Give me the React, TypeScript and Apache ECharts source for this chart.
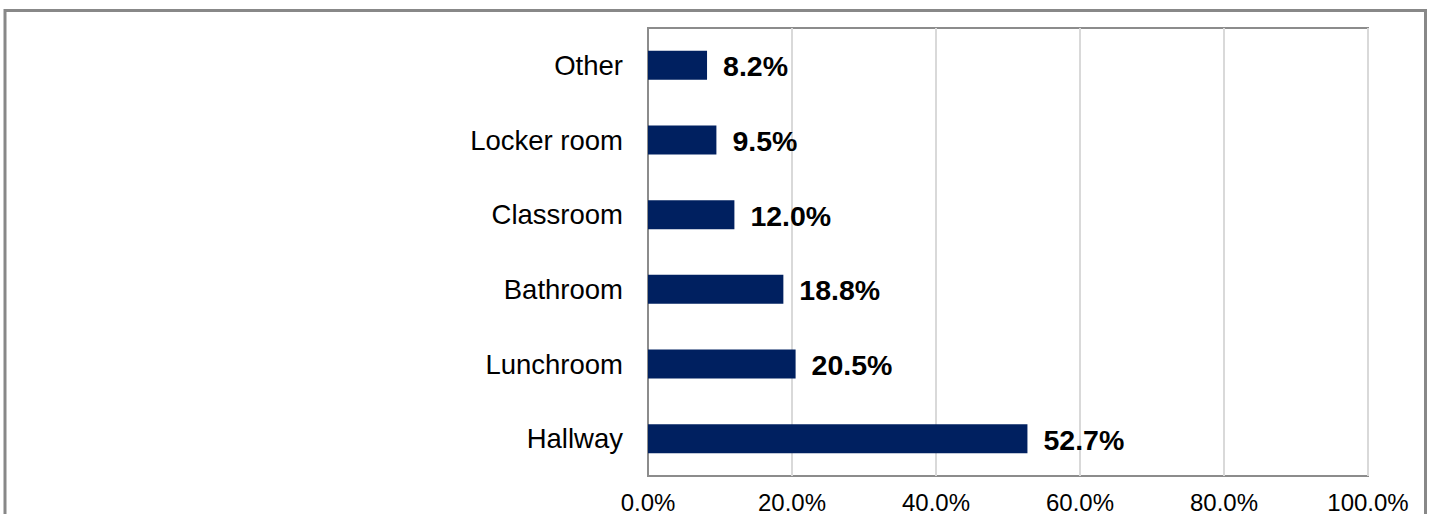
import React, { useEffect, useRef } from "react";
import * as echarts from "echarts";

const categories = ["Hallway", "Lunchroom", "Bathroom", "Classroom", "Locker room", "Other"];
const values = [52.7, 20.5, 18.8, 12.0, 9.5, 8.2];
const xTicks = [0, 20, 40, 60, 80, 100];

export default function App() {
  const ref = useRef<HTMLDivElement>(null);
  useEffect(() => {
    document.body.style.margin = "0";
    const chart = echarts.init(ref.current!, null, { renderer: "svg" });
    chart.setOption({
      animation: false,
      textStyle: { fontFamily: "Liberation Sans, Arial, sans-serif" },
      graphic: [
        {
          type: "rect",
          shape: { x: 5, y: 10.5, width: 1420.5, height: 530 },
          style: { fill: "none", stroke: "#888888", lineWidth: 3 },
          silent: true,
        },
      ],
      grid: {
        left: 648,
        width: 720,
        top: 28,
        height: 448,
        show: true,
        containLabel: false,
        outerBoundsMode: "none",
        borderColor: "#8c8c8c",
        borderWidth: 2,
        backgroundColor: "transparent",
      },
      xAxis: {
        type: "value",
        min: xTicks[0],
        max: xTicks[xTicks.length - 1],
        interval: 20,
        axisLine: { show: false },
        axisTick: { show: false },
        splitLine: { show: true, lineStyle: { color: "#d9d9d9", width: 2 } },
        axisLabel: {
          color: "#000",
          fontSize: 24,
          lineHeight: 24,
          margin: 14,
          formatter: (v: number) => v.toFixed(1) + "%",
        },
      },
      yAxis: {
        type: "category",
        data: categories,
        axisLine: { show: true, lineStyle: { color: "#8c8c8c", width: 2 } },
        axisTick: { show: false },
        axisLabel: { color: "#000", fontSize: 27.5, margin: 25 },
      },
      series: [
        {
          type: "bar",
          data: values,
          barWidth: 29,
          itemStyle: { color: "#002060" },
          label: {
            show: true,
            position: "right",
            distance: 16,
            color: "#000",
            fontSize: 28.5,
            fontWeight: "bold",
            offset: [0, 1],
            formatter: (p: any) => Number(p.value).toFixed(1) + "%",
          },
        },
      ],
    });
    return () => chart.dispose();
  }, []);
  return (
    <div
      ref={ref}
      style={{ position: "absolute", left: 0, top: 0, width: 1433, height: 514 }}
    />
  );
}
